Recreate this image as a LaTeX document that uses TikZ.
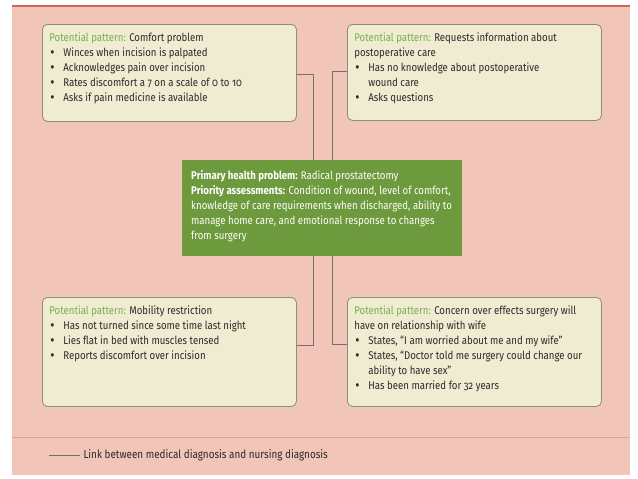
\documentclass[tikz,border=0pt]{standalone}
\usepackage{fontspec}
\setmainfont{Fira Sans}[FakeStretch=0.86,Numbers=OldStyle]
\usetikzlibrary{positioning}

\definecolor{panelpink}{RGB}{241,197,184}
\definecolor{panelred}{RGB}{204,102,84}
\definecolor{panelrule}{RGB}{226,160,144}
\definecolor{cardfill}{RGB}{239,236,210}
\definecolor{cardedge}{RGB}{140,140,130}
\definecolor{probgreen}{RGB}{108,154,60}
\definecolor{patgreen}{RGB}{118,176,78}
\definecolor{txtgray}{RGB}{42,42,42}
\definecolor{linkgray}{RGB}{112,112,112}

\newcommand{\Tpattern}{\textcolor{patgreen}{Potential pattern:}}
\newcommand{\Ibul}[1]{\par\hangindent=14pt\hangafter=1\noindent\makebox[14pt][l]{\hspace*{1pt}\smash{\raisebox{-0.5pt}{\fontsize{15}{15}\selectfont\textbullet}}}#1}
\newcommand{\Ccard}[2]{\parbox[t][#1][t]{240pt}{\raggedright #2}}
\newcommand{\Cmain}[2]{\parbox[t][#1][t]{262pt}{\raggedright #2}}

\tikzstyle{card} = [draw=cardedge, fill=cardfill, rounded corners=5pt, line width=0.8pt, inner xsep=7pt, inner ysep=8.5pt, anchor=north west, text=txtgray, font=\fontsize{11.2}{15}\selectfont]
\tikzstyle{problem} = [fill=probgreen, inner xsep=9pt, inner ysep=10pt, anchor=north west, text=white, font=\fontsize{11.2}{15}\selectfont]

\begin{document}
\begin{tikzpicture}[x=1pt, y=-1pt,
    link/.style={draw=linkgray, line width=0.9pt},
    legendtext/.style={text=txtgray, font=\fontsize{11.5}{12}\selectfont, anchor=west}]
%\draw [help lines] (0,0) grid (638,479);

% Background
\useasboundingbox (0,0) rectangle (638,479);
\fill[white] (0,0) rectangle (638,479);
\fill[panelpink] (12,6) rectangle (630,475);
\draw[panelred, line width=2pt] (12,6) -- (630,6);
\draw[panelrule, line width=1pt] (12,437) -- (630,437);

% Define nodes
\node[problem] (prob) at (182,160) {\Cmain{76pt}{%
    \textbf{Primary health problem:} Radical prostatectomy\newline
    \textbf{Priority assessments:} Condition of wound, level of comfort,\newline
    knowledge of care requirements when discharged, ability to\newline
    manage home care, and emotional response to changes\newline
    from surgery}};

\node[card] (comfort) at (42,24) {\Ccard{80pt}{%
    \Tpattern{} Comfort problem
    \Ibul{Winces when incision is palpated}
    \Ibul{Acknowledges pain over incision}
    \Ibul{Rates discomfort a 7 on a scale of 0 to 10}
    \Ibul{Asks if pain medicine is available}}};

\node[card] (info) at (347,24) {\Ccard{79pt}{%
    \Tpattern{} Requests information about\newline postoperative care
    \Ibul{Has no knowledge about postoperative\newline wound care}
    \Ibul{Asks questions}}};

\node[card] (mobility) at (42,297) {\Ccard{92pt}{%
    \Tpattern{} Mobility restriction
    \Ibul{Has not turned since some time last night}
    \Ibul{Lies flat in bed with muscles tensed}
    \Ibul{Reports discomfort over incision}}};

\node[card] (concern) at (347,297) {\Ccard{92pt}{%
    \Tpattern{} Concern over effects surgery will\newline have on relationship with wife
    \Ibul{States, “I am worried about me and my wife”}
    \Ibul{States, “Doctor told me surgery could change our\newline ability to have sex”}
    \Ibul{Has been married for 32 years}}};

% Legend
\coordinate (legstart) at (49,455);
\node[legendtext] (legend) at (80,455) {Link between medical diagnosis and nursing diagnosis};

% Edges
\draw[link] ([yshift=-2pt]comfort.east) -| ([xshift=-9pt]prob.north);
\draw[link] ([yshift=1pt]info.west) -| ([xshift=10pt]prob.north);
\draw[link] ([yshift=6pt]mobility.east) -| ([xshift=-9pt]prob.south);
\draw[link] ([yshift=7pt]concern.west) -| ([xshift=10pt]prob.south);
\draw[link] (legstart) -- (legend.west);
\end{tikzpicture}
\end{document}
